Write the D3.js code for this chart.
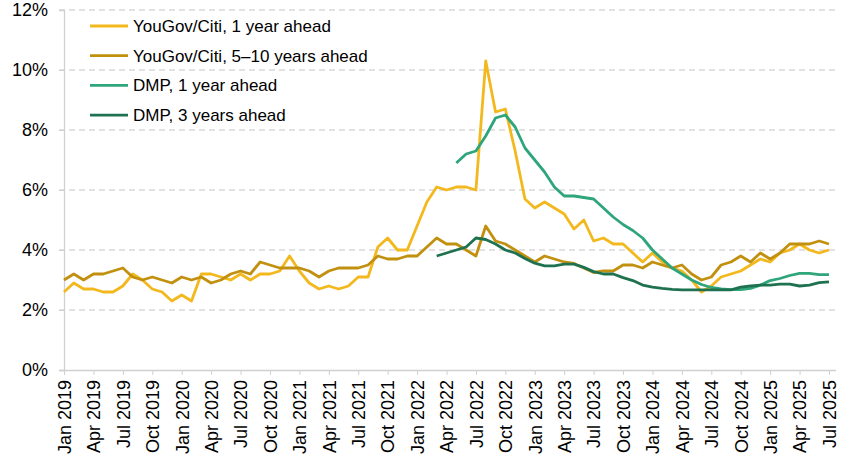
<!DOCTYPE html>
<html>
<head>
<meta charset="utf-8">
<script src="https://cdn.jsdelivr.net/npm/d3@7"></script>
<style>
  body { margin: 0; background: #fff; }
  text { font-family: Arial, "Liberation Sans", sans-serif; fill: #000; }
</style>
</head>
<body>
<svg id="chart"></svg>
<script>
// Monthly labels, Jan 2019 .. Jul 2025
const monthNames = ["Jan", "Feb", "Mar", "Apr", "May", "Jun", "Jul", "Aug", "Sep", "Oct", "Nov", "Dec"];
const months = [];
for (let y = 2019; y <= 2025; y++) {
  for (let m = 0; m < 12; m++) {
    if (y === 2025 && m > 6) break;
    months.push(monthNames[m] + " " + y);
  }
}

// YouGov/Citi, 1 year ahead (Jan 2019 - Jul 2025)
const yougov1 = [2.6, 2.9, 2.7, 2.7, 2.6, 2.6, 2.8, 3.2, 3.0, 2.7, 2.6, 2.3,
  2.5, 2.3, 3.2, 3.2, 3.1, 3.0, 3.2, 3.0, 3.2, 3.2, 3.3, 3.8,
  3.3, 2.9, 2.7, 2.8, 2.7, 2.8, 3.1, 3.1, 4.1, 4.4, 4.0, 4.0,
  4.8, 5.6, 6.1, 6.0, 6.1, 6.1, 6.0, 10.3, 8.6, 8.7, 7.3, 5.7,
  5.4, 5.6, 5.4, 5.2, 4.7, 5.0, 4.3, 4.4, 4.2, 4.2, 3.9, 3.6,
  3.9, 3.6, 3.4, 3.3, 3.0, 2.6, 2.8, 3.1, 3.2, 3.3, 3.5, 3.7,
  3.6, 3.9, 4.0, 4.2, 4.0, 3.9, 4.0];

// YouGov/Citi, 5-10 years ahead (Jan 2019 - Jul 2025)
const yougov510 = [3.0, 3.2, 3.0, 3.2, 3.2, 3.3, 3.4, 3.1, 3.0, 3.1, 3.0, 2.9,
  3.1, 3.0, 3.1, 2.9, 3.0, 3.2, 3.3, 3.2, 3.6, 3.5, 3.4, 3.4,
  3.4, 3.3, 3.1, 3.3, 3.4, 3.4, 3.4, 3.5, 3.8, 3.7, 3.7, 3.8,
  3.8, 4.1, 4.4, 4.2, 4.2, 4.0, 3.8, 4.8, 4.3, 4.2, 4.0, 3.8,
  3.6, 3.8, 3.7, 3.6, 3.55, 3.4, 3.25, 3.3, 3.3, 3.5, 3.5, 3.4,
  3.6, 3.5, 3.4, 3.5, 3.2, 3.0, 3.1, 3.5, 3.6, 3.8, 3.6, 3.9,
  3.7, 3.9, 4.2, 4.2, 4.2, 4.3, 4.2];

// DMP, 1 year ahead (May 2022 - Jul 2025)
const dmp1Start = 40;
const dmp1 = [6.9, 7.2, 7.3, 7.8, 8.4, 8.5, 8.1, 7.4,
  7.0, 6.6, 6.1, 5.8, 5.8, 5.75, 5.7, 5.4, 5.1, 4.85, 4.65, 4.4,
  4.0, 3.7, 3.4, 3.2, 3.0, 2.85, 2.75, 2.7, 2.68, 2.68, 2.72, 2.83,
  2.98, 3.05, 3.15, 3.22, 3.22, 3.18, 3.18];

// DMP, 3 years ahead (Mar 2022 - Jul 2025)
const dmp3Start = 38;
const dmp3 = [3.8, 3.9, 4.0, 4.1, 4.4, 4.35, 4.2, 4.0, 3.9, 3.72,
  3.56, 3.47, 3.47, 3.53, 3.53, 3.42, 3.28, 3.2, 3.2, 3.08, 2.98, 2.83,
  2.76, 2.72, 2.69, 2.67, 2.67, 2.67, 2.67, 2.67, 2.67, 2.76, 2.8, 2.83,
  2.83, 2.86, 2.86, 2.8, 2.83, 2.91, 2.94];

const yTicks = [0, 2, 4, 6, 8, 10, 12];

const seriesNames = ["YouGov/Citi, 1 year ahead", "YouGov/Citi, 5\u201310 years ahead",
  "DMP, 1 year ahead", "DMP, 3 years ahead"];
const seriesColors = ["#F3B81D", "#C2900F", "#2EA57A", "#1F7250"];

const width = 848;
const height = 462;

const svg = d3.select("#chart")
  .attr("width", width)
  .attr("height", height);

const x = d3.scalePoint()
  .domain(months)
  .range([64, 829]);

const y = d3.scaleLinear()
  .domain([0, 12])
  .range([370, 10]);

// gridlines
svg.append("g")
  .selectAll("line")
  .data(yTicks.filter(d => d > 0))
  .enter()
  .append("line")
  .attr("x1", 59)
  .attr("x2", 836)
  .attr("y1", d => y(d))
  .attr("y2", d => y(d))
  .attr("stroke", "#c6c6c6")
  .attr("stroke-width", 1.2)
  .attr("stroke-dasharray", "6,4");

// y axis
const yAxis = svg.append("g")
  .attr("transform", "translate(64,0)")
  .call(d3.axisLeft(y).tickValues(yTicks).tickSize(5).tickFormat(d => d + "%"));
yAxis.select(".domain").attr("stroke", "#d0d0d0").attr("stroke-width", 1.3);
yAxis.selectAll(".tick line").attr("stroke", "#d0d0d0");
yAxis.selectAll(".tick text")
  .attr("x", -16)
  .style("font-size", "18px")
  .style("font-family", "Arial, 'Liberation Sans', sans-serif");

// x axis
const xAxis = svg.append("g")
  .attr("transform", "translate(0,370)")
  .call(d3.axisBottom(x)
    .tickValues(months.filter((d, i) => i % 3 === 0))
    .tickSize(5)
    .tickSizeOuter(0));
xAxis.select(".domain").attr("stroke", "#d0d0d0").attr("stroke-width", 1.3)
  .attr("d", "M59,0.5H836");
xAxis.selectAll(".tick line").attr("stroke", "#d0d0d0");
xAxis.selectAll(".tick text")
  .attr("transform", "rotate(-90)")
  .attr("x", -10)
  .attr("y", 0)
  .attr("dy", "0.35em")
  .style("text-anchor", "end")
  .style("font-size", "18px")
  .style("font-family", "Arial, 'Liberation Sans', sans-serif");

// lines
const line = d3.line()
  .x(d => x(months[d.i]))
  .y(d => y(d.v));

const series = [
  yougov1.map((v, i) => ({ i: i, v: v })),
  yougov510.map((v, i) => ({ i: i, v: v })),
  dmp1.map((v, i) => ({ i: i + dmp1Start, v: v })),
  dmp3.map((v, i) => ({ i: i + dmp3Start, v: v }))
];

// draw order: yellow, brown, teal, dark green
svg.append("g")
  .selectAll("path")
  .data(series)
  .enter()
  .append("path")
  .attr("d", d => line(d))
  .attr("fill", "none")
  .attr("stroke", (d, i) => seriesColors[i])
  .attr("stroke-width", 2.8)
  .attr("stroke-linejoin", "round");

// legend
const legend = svg.append("g")
  .selectAll("g")
  .data(seriesNames)
  .enter()
  .append("g")
  .attr("transform", (d, i) => "translate(90," + (26 + i * 29.7) + ")");

legend.append("line")
  .attr("x1", 0)
  .attr("x2", 38)
  .attr("stroke", (d, i) => seriesColors[i])
  .attr("stroke-width", 2.8);

legend.append("text")
  .attr("x", 43)
  .attr("dy", "0.35em")
  .style("font-size", "17px")
  .text(d => d);
</script>
</body>
</html>
